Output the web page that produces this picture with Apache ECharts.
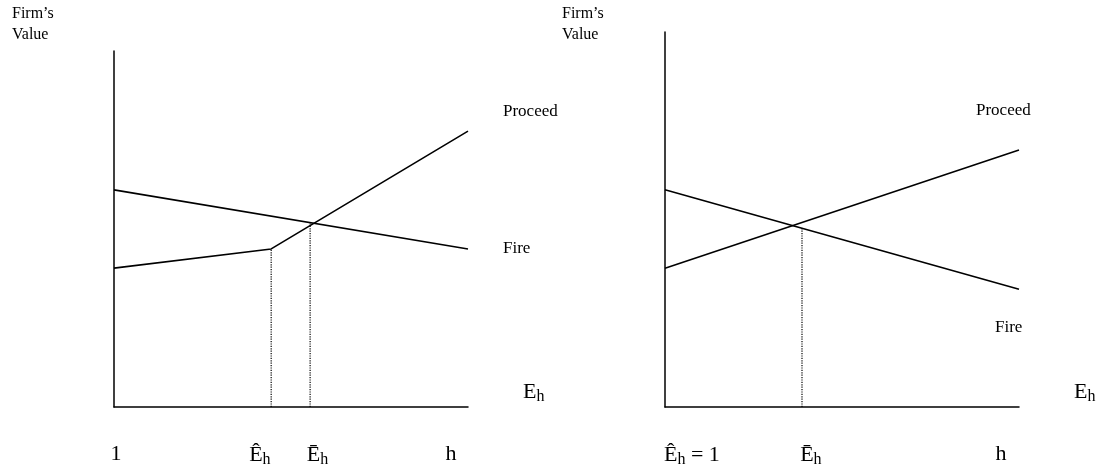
<!DOCTYPE html>
<html>
<head>
<meta charset="UTF-8">
<title>Firm's Value</title>
<script src="https://cdn.jsdelivr.net/npm/echarts@6/dist/echarts.min.js"></script>
<style>
  html, body { margin: 0; padding: 0; background: #fff; }
  #main { width: 1104px; height: 469px; }
</style>
</head>
<body>
<div id="main"></div>
<script>
// values (x: 0..100 along E_h axis, y: firm's value, 0..100 on left panel)
var leftFireX = [0, 100];
var leftFireY = [61.0, 44.4];
var leftProceedX = [0, 44.4, 100];
var leftProceedY = [39.0, 44.4, 77.5];
var leftGuideX = [44.4, 55.4];      // E-hat, E-bar
var leftGuideTop = [44.4, 51.8];
var leftTickPos = [0.6, 41.2, 57.5, 95.2];
var leftTickText = ['1', '{e|Ê}{s|h}', '{e|Ē}{s|h}', 'h'];

var rightFireX = [0, 100];
var rightFireY = [61.0, 33.1];
var rightProceedX = [0, 100];
var rightProceedY = [39.0, 72.2];
var rightGuideX = [38.7];
var rightGuideTop = [50.3];
var rightTickPos = [7.6, 41.2, 94.9];
var rightTickText = ['{e|Ê}{s|h}{e| = 1}', '{e|Ē}{s|h}', 'h'];

var FONT = '"Liberation Serif", "Times New Roman", serif';

function pairs(xs, ys) {
  var out = [];
  for (var i = 0; i < xs.length; i++) out.push([xs[i], ys[i]]);
  return out;
}

var rich = {
  e: { fontFamily: FONT, fontSize: 22, color: '#000' },
  s: { fontFamily: FONT, fontSize: 16, color: '#000', padding: [9, 0, 0, 0] }
};

function xAxisFor(idx, pos, txt) {
  return {
    type: 'value', gridIndex: idx, min: 0, max: 100,
    name: '{e|E}{s|h}', nameLocation: 'end', nameGap: 55,
    nameTextStyle: { rich: rich, verticalAlign: 'bottom', padding: [0, 0, 2, 0] },
    axisLine: { show: true, lineStyle: { color: '#000', width: 1.5 } },
    axisTick: { show: false },
    splitLine: { show: false },
    axisLabel: {
      customValues: pos,
      margin: 36,
      formatter: function (v) {
        var i = pos.indexOf(v);
        return i < 0 ? '' : txt[i];
      },
      rich: rich,
      fontFamily: FONT, fontSize: 22, color: '#000'
    }
  };
}

function yAxisFor(idx, max) {
  return {
    type: 'value', gridIndex: idx, min: 0, max: max,
    axisLine: { show: true, lineStyle: { color: '#000', width: 1.5 } },
    axisTick: { show: false },
    axisLabel: { show: false },
    splitLine: { show: false }
  };
}

function curve(idx, name, xs, ys, offset) {
  return {
    type: 'line', name: name, xAxisIndex: idx, yAxisIndex: idx,
    data: pairs(xs, ys), symbol: 'none', silent: true,
    lineStyle: { color: '#000', width: 1.6 },
    endLabel: {
      show: true, formatter: name, distance: 0, offset: offset,
      fontFamily: FONT, fontSize: 17, color: '#000'
    }
  };
}

function guides(idx, xs, tops) {
  var list = [];
  for (var i = 0; i < xs.length; i++) {
    list.push({
      type: 'line', xAxisIndex: idx, yAxisIndex: idx,
      data: [[xs[i], 0], [xs[i], tops[i]]], symbol: 'none', silent: true,
      lineStyle: { color: '#000', width: 1.2, type: [1.2, 1.2] }
    });
  }
  return list;
}

var myChart = echarts.init(document.getElementById('main'));

var titleStyle = { fontFamily: FONT, fontSize: 16, fontWeight: 'normal', color: '#000', lineHeight: 21 };
var option = {
  backgroundColor: '#fff',
  animation: false,
  title: [
    { text: 'Firm’s\nValue', left: 12, top: 3, padding: 0, textStyle: titleStyle },
    { text: 'Firm’s\nValue', left: 562, top: 3, padding: 0, textStyle: titleStyle }
  ],
  grid: [
    { left: 114, top: 51, width: 354, height: 356 },
    { left: 665, top: 32, width: 354, height: 375 }
  ],
  xAxis: [xAxisFor(0, leftTickPos, leftTickText), xAxisFor(1, rightTickPos, rightTickText)],
  yAxis: [yAxisFor(0, 100), yAxisFor(1, 100 * 375 / 356)],
  series: [
    curve(0, 'Fire', leftFireX, leftFireY, [35, 0]),
    curve(0, 'Proceed', leftProceedX, leftProceedY, [35, -20]),
    curve(1, 'Fire', rightFireX, rightFireY, [-24, 38]),
    curve(1, 'Proceed', rightProceedX, rightProceedY, [-43, -39])
  ].concat(guides(0, leftGuideX, leftGuideTop)).concat(guides(1, rightGuideX, rightGuideTop))
};

myChart.setOption(option);
</script>
</body>
</html>
